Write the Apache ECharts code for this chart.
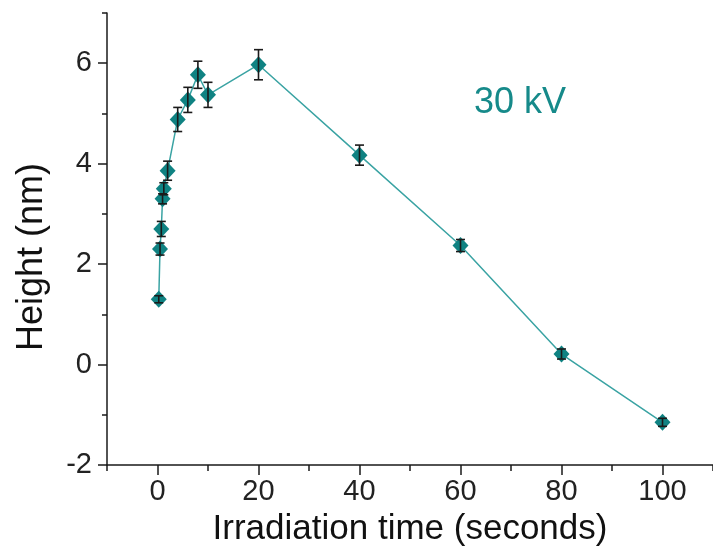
<!DOCTYPE html>
<html>
<head>
<meta charset="utf-8">
<title>Height vs irradiation time</title>
<script src="https://cdn.jsdelivr.net/npm/echarts@6/dist/echarts.min.js"></script>
<style>
    html, body { margin: 0; padding: 0; background: #fff; }
    #height_chart { width: 713px; height: 555px; }
</style>
</head>
<body>
<div id="height_chart"></div>
<script>
// irradiation time (s)
var times = [0.25, 0.5, 0.75, 1, 1.25, 2, 4, 6, 8, 10, 20, 40, 60, 80, 100];
// height (nm)
var heights = [1.3, 2.3, 2.7, 3.3, 3.5, 3.86, 4.88, 5.27, 5.77, 5.37, 5.97, 4.17, 2.37, 0.21, -1.15];
// error bar half-length (nm)
var errors = [0.07, 0.12, 0.15, 0.1, 0.12, 0.19, 0.24, 0.25, 0.27, 0.25, 0.3, 0.2, 0.12, 0.1, 0.08];

var xMajorTicks = [0, 20, 40, 60, 80, 100];
var xMinorTicks = [-10, 10, 30, 50, 70, 90, 110];
var yMajorTicks = [-2, 0, 2, 4, 6];
var yMinorTicks = [-1, 1, 3, 5, 7];

var FONT = '"Liberation Sans", Arial, sans-serif';
var TEAL = '#0f8282';
var AXIS_COLOR = '#1a1a1a';

/**
 * 只画刻度的辅助坐标轴
 */
function tickAxis(min, max, position, length, values) {
    return {
        type: 'value',
        min: min,
        max: max,
        position: position,
        axisLine: {show: false, onZero: false},
        axisTick: {show: true, length: length, customValues: values, lineStyle: {color: AXIS_COLOR, width: 1.5}},
        axisLabel: {show: false},
        splitLine: {show: false}
    };
}

/**
 * 高度随照射时间变化的图表
 */
function heightChart() {
    var myChart = echarts.init(document.getElementById('height_chart'));

    var linePoints = [];
    var errorBars = [];
    for (var i = 0; i < times.length; i++) {
        linePoints.push([times[i], heights[i]]);
        errorBars.push([times[i], heights[i] - errors[i], heights[i] + errors[i]]);
    }

    var axisLine = {show: true, onZero: false, lineStyle: {color: AXIS_COLOR, width: 1.5}};

    var option = {
        animation: false,
        grid: {left: 107, top: 13, width: 612, height: 452},
        graphic: [{
            type: 'text',
            left: 474,
            top: 85,
            style: {text: '30 kV', fill: '#168a8a', font: '36px ' + FONT}
        }],
        xAxis: [
            {
                type: 'value',
                min: -10,
                max: 110,
                position: 'bottom',
                name: 'Irradiation time (seconds)',
                nameLocation: 'middle',
                nameGap: 47,
                nameTextStyle: {fontFamily: FONT, fontSize: 35, color: '#111'},
                axisLine: axisLine,
                axisTick: {show: true, length: 10, customValues: xMajorTicks, lineStyle: {color: AXIS_COLOR, width: 1.5}},
                axisLabel: {customValues: xMajorTicks, margin: 12, fontFamily: FONT, fontSize: 29, color: '#222'},
                splitLine: {show: false}
            },
            tickAxis(-10, 110, 'bottom', 6, xMinorTicks)
        ],
        yAxis: [
            {
                type: 'value',
                min: -2,
                max: 7,
                position: 'left',
                name: 'Height (nm)',
                nameLocation: 'middle',
                nameGap: 57,
                nameRotate: 90,
                nameTextStyle: {fontFamily: FONT, fontSize: 36, color: '#111', padding: [0, 36, 0, 0]},
                axisLine: axisLine,
                axisTick: {show: true, length: 9, customValues: yMajorTicks, lineStyle: {color: AXIS_COLOR, width: 1.5}},
                axisLabel: {customValues: yMajorTicks, margin: 15, fontFamily: FONT, fontSize: 29, color: '#222'},
                splitLine: {show: false}
            },
            tickAxis(-2, 7, 'left', 5, yMinorTicks)
        ],
        series: [
            {
                type: 'line',
                data: linePoints,
                symbol: 'diamond',
                symbolSize: [16, 17],
                lineStyle: {color: '#3aa3a3', width: 1.5},
                itemStyle: {color: TEAL},
                z: 2
            },
            {
                type: 'custom',
                data: errorBars,
                z: 3,
                renderItem: function (params, api) {
                    var x = api.value(0);
                    var low = api.coord([x, api.value(1)]);
                    var high = api.coord([x, api.value(2)]);
                    var cap = 4.5;
                    var style = {stroke: AXIS_COLOR, lineWidth: 1.6};
                    return {
                        type: 'group',
                        children: [
                            {type: 'line', shape: {x1: low[0], y1: low[1], x2: high[0], y2: high[1]}, style: style},
                            {type: 'line', shape: {x1: low[0] - cap, y1: low[1], x2: low[0] + cap, y2: low[1]}, style: style},
                            {type: 'line', shape: {x1: high[0] - cap, y1: high[1], x2: high[0] + cap, y2: high[1]}, style: style}
                        ]
                    };
                }
            }
        ]
    };
    if (option && typeof option === "object") {
        myChart.setOption(option, true);
    }
}

heightChart();
</script>
</body>
</html>
